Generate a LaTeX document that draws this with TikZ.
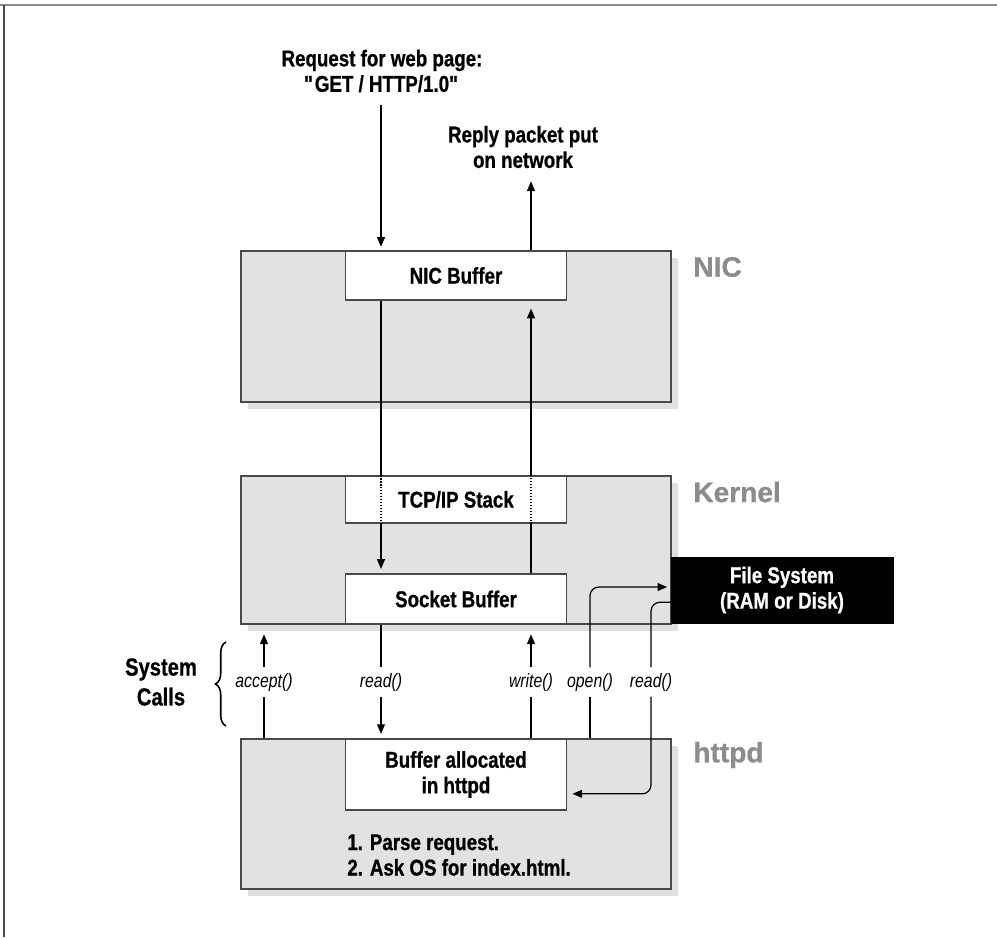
\documentclass[tikz,border=0pt]{standalone}
\usepackage{fontspec}
\setmainfont{Liberation Sans}[FakeStretch=0.82, BoldFeatures={FakeBold=0.8}]
\newfontfamily\tagfamily{Liberation Sans}[BoldFeatures={FakeBold=0.8}]
\usepackage{tikz}
\usetikzlibrary{arrows.meta,decorations.pathreplacing,shadows}
\definecolor{layergray}{HTML}{E2E2E2}
\definecolor{taggray}{HTML}{8C8C8C}
\definecolor{edgegray}{HTML}{4A4A4A}
\definecolor{framegray}{HTML}{8A8A8A}
\tikzset{
  layerbox/.style={
    draw=edgegray,
    fill=layergray,
    line width=0.8pt,
    minimum width=8.6cm,
    inner sep=0pt,
    drop shadow={shadow xshift=4pt, shadow yshift=-4pt, fill=gray!50, opacity=0.5}
  },
  bufferbox/.style={
    draw=edgegray,
    fill=white,
    line width=0.8pt,
    minimum width=4.42cm,
    inner sep=0pt,
    align=center,
    font=\fontsize{13}{14.5}\selectfont\bfseries
  },
  fsbox/.style={
    draw=black,
    fill=black,
    text=white,
    minimum width=4.44cm,
    minimum height=1.32cm,
    inner sep=0pt,
    align=center,
    font=\fontsize{13}{14.5}\selectfont\bfseries
  },
  layertag/.style={
    anchor=west,
    text=taggray,
    inner sep=0pt,
    font=\tagfamily\fontsize{16}{18}\selectfont\bfseries
  },
  plaintext/.style={
    align=center,
    font=\fontsize{13}{14.5}\selectfont\bfseries
  },
  callname/.style={
    inner sep=3pt,
    font=\fontsize{11}{12}\selectfont\itshape
  },
  wire/.style={
    line width=0.7pt,
    draw=black
  },
  flowarrow/.style={
    wire,
    -{Triangle[length=5.5pt,width=4.5pt]}
  }
}
\begin{document}
\begin{tikzpicture}[x=0.02cm, y=-0.02cm]
    \useasboundingbox (0,0) rectangle (997,937);
    \draw[framegray, line width=1.6pt] (0,5) -- (997,5);
    \draw[edgegray, line width=0.8pt] (4,937) -- (4,5);

    % the three layers
    \node[layerbox, minimum height=3.02cm] (nic) at (456,326.5) {};
    \node[layerbox, minimum height=2.96cm] (kernel) at (456,550) {};
    \node[layerbox, minimum height=3cm] (httpd) at (456,814) {};

    \node[bufferbox, anchor=north, minimum height=0.98cm] (nicbuf) at (nic.north) {NIC Buffer};
    \node[bufferbox, anchor=north, minimum height=0.94cm] (tcp) at (kernel.north) {TCP/IP Stack};
    \node[bufferbox, anchor=south, minimum height=1cm] (sockbuf) at (kernel.south) {Socket Buffer};
    \node[bufferbox, anchor=north, minimum height=1.42cm] (httpbuf) at (httpd.north) {Buffer allocated\\in httpd};
    \node[fsbox] (fs) at (782,590) {File System\\(RAM or Disk)};

    \node[layertag] (nictag) at (693,267) {NIC};
    \node[layertag] (kerneltag) at (693,492) {Kernel};
    \node[layertag] (httpdtag) at (693,755) {httpd};

    \node[plaintext, anchor=north west, align=left, inner sep=0pt] (steps) at (347,834) {1. Parse request.\\2. Ask OS for index.html.};
    \node[plaintext] (request) at (382,71) {Request for web page:\\\textquotedbl GET / HTTP/1.0\textquotedbl};
    \node[plaintext] (reply) at (523,147) {Reply packet put\\on network};
    \node[plaintext, font=\fontsize{14}{17}\selectfont\bfseries] (syscalls) at (161,682) {System\\Calls};

    \node[callname] (acceptcall) at (264,682) {accept()};
    \node[callname] (readcall) at (381,682) {read()};
    \node[callname] (writecall) at (531,682) {write()};
    \node[callname] (opencall) at (590,682) {open()};
    \node[callname] (fsreadcall) at (651,682) {read()};

    \coordinate (inpath) at (381,0);
    \coordinate (outpath) at (531,0);

    % request in, reply out
    \draw[flowarrow, shorten <=4pt, shorten >=2pt] (request.south -| inpath) -- (nic.north -| inpath);
    \draw[flowarrow, shorten >=4pt] (nic.north -| outpath) -- (reply.south -| outpath);

    \draw[wire] (nicbuf.south -| inpath) -- (tcp.north -| inpath);
    \draw[wire, densely dotted] (tcp.north -| inpath) -- (tcp.south -| inpath);
    \draw[flowarrow, shorten >=2.5pt] (tcp.south -| inpath) -- (sockbuf.north -| inpath);

    \draw[wire] (sockbuf.north -| outpath) -- (tcp.south -| outpath);
    \draw[wire, densely dotted] (tcp.south -| outpath) -- (tcp.north -| outpath);
    \draw[flowarrow, shorten >=4.5pt] (tcp.north -| outpath) -- (nicbuf.south -| outpath);

    % system calls
    \draw[wire] (httpd.north -| acceptcall) -- (acceptcall);
    \draw[flowarrow, shorten >=5.5pt] (acceptcall) -- (kernel.south -| acceptcall);
    \draw[wire] (kernel.south -| readcall) -- (readcall);
    \draw[flowarrow, shorten >=2.5pt] (readcall) -- (httpbuf.north -| readcall);
    \draw[wire] (httpbuf.north -| writecall) -- (writecall);
    \draw[flowarrow, shorten >=5.5pt] (writecall) -- (kernel.south -| writecall);
    \draw[wire] (httpd.north -| opencall) -- (opencall);
    \draw[flowarrow, rounded corners=5pt, shorten >=2pt] (opencall) |- ([yshift=1.7pt]fs.west);
    \draw[wire, rounded corners=5pt] ([yshift=-7pt]fs.west) -| (fsreadcall);
    \draw[flowarrow, rounded corners=5pt, shorten >=3pt] (fsreadcall) |- ([yshift=-11pt]httpbuf.east);

    \draw[wire, line width=0.9pt, decorate, decoration={brace, amplitude=6pt}] (226,726) -- (226,642);
\end{tikzpicture}
\end{document}
